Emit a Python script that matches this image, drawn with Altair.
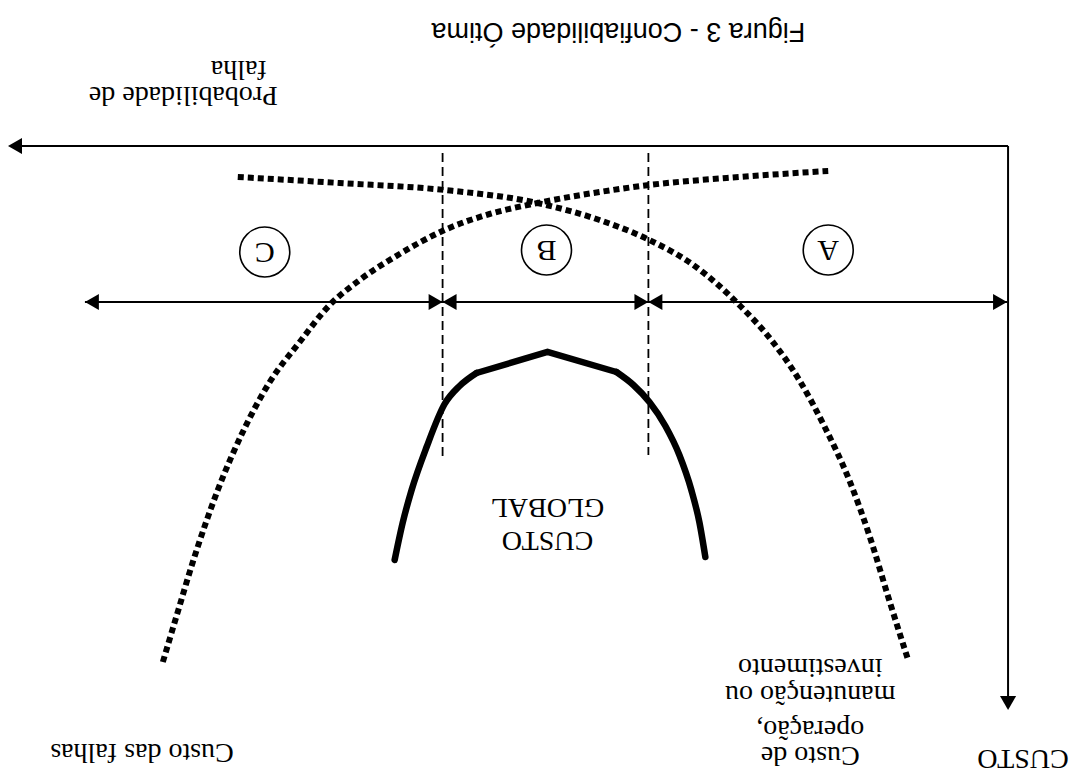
import altair as alt
import pandas as pd

# ---- curves (page coordinates) ----
operacao_x = [238, 340, 445, 538, 600, 650, 694, 742, 772, 800, 826, 850, 871, 890, 909]
operacao_y = [177, 183, 190, 203, 220, 240, 265, 307, 340, 380, 428, 480, 538, 600, 660]
falhas_x = [163, 177, 193, 218, 243, 270, 300, 330, 360, 400, 445, 490, 538, 600, 650, 740, 829]
falhas_y = [662, 615, 562, 490, 432, 382, 342, 305, 280, 254, 230, 214, 203, 192, 185, 177, 171]
# global cost curve: rising side, straight top, falling side
global_x = [395, 403, 412, 427, 445, 460, 477, 477, 548, 617, 617, 634, 650, 666, 680, 692, 700, 706]
global_y = [560, 523, 490, 447, 404, 386, 373, 373, 352, 372, 372, 385, 402, 426, 455, 490, 522, 557]
global_part = ["l"] * 7 + ["t"] * 3 + ["r"] * 8

# ---- axes, range arrow and region boundaries ----
axis_corner_x = 1009
axis_corner_y = 146
axis_left_end = 8
axis_bottom_end = 710
range_y = 302
range_bounds = [85, 443, 649, 1008]
dash_x = [443, 649]
dash_top = [153, 153]
dash_bottom = [457, 455]

# ---- region markers ----
region_letters = ["A", "B", "C"]
region_x = [829, 547, 265]
region_y = [250, 250, 252]

# ---- texts ----
title_text = "Figura 3 - Confiabilidade Ótima"
left_texts = ["Probabilidade de", "falha", "Custo das falhas"]
left_x = [278, 267, 234]
left_y = [95, 69, 752]
center_texts = ["CUSTO", "Custo de", "operação,", "manutenção ou", "investimento", "CUSTO", "GLOBAL"]
center_x = [1024, 811, 811, 811, 811, 548, 548]
center_y = [758, 755, 729, 694, 667, 540, 507]

W, H = 1061, 768
XS = alt.Scale(domain=[8, 8 + W], nice=False, zero=False)
YS = alt.Scale(domain=[8, 8 + H], nice=False, zero=False, reverse=True)
X = lambda f: alt.X(f, type="quantitative", scale=XS, axis=None)
Y = lambda f: alt.Y(f, type="quantitative", scale=YS, axis=None)

SERIF = "Liberation Serif"

curves = pd.concat([
    pd.DataFrame({"x": operacao_x, "y": operacao_y, "c": "operacao"}),
    pd.DataFrame({"x": falhas_x, "y": falhas_y, "c": "falhas"}),
])
dotted = alt.Chart(curves).mark_line(
    color="black", strokeWidth=6, strokeDash=[6, 4], strokeCap="butt", interpolate="monotone"
).encode(x=X("x"), y=Y("y"), detail="c:N")

gdf = pd.DataFrame({"x": global_x, "y": global_y, "p": global_part})
glob_sides = alt.Chart(gdf[gdf.p != "t"]).mark_line(
    color="black", strokeWidth=6.5, strokeCap="round", interpolate="monotone"
).encode(x=X("x"), y=Y("y"), detail="p:N")
glob_top = alt.Chart(gdf[gdf.p == "t"]).mark_line(
    color="black", strokeWidth=6.5, strokeCap="round", strokeJoin="miter", interpolate="linear"
).encode(x=X("x"), y=Y("y"))

# solid rules: axes and range line
rules_df = pd.DataFrame({
    "x": [axis_left_end + 8, axis_corner_x, range_bounds[0]],
    "x2": [axis_corner_x, axis_corner_x, range_bounds[-1]],
    "y": [axis_corner_y, axis_corner_y, range_y],
    "y2": [axis_corner_y, axis_bottom_end - 8, range_y],
})
rules = alt.Chart(rules_df).mark_rule(color="black", strokeWidth=2).encode(
    x=X("x"), x2="x2:Q", y=Y("y"), y2="y2:Q"
)

dash_df = pd.DataFrame({"x": dash_x, "y": dash_top, "y2": dash_bottom})
dashes = alt.Chart(dash_df).mark_rule(color="black", strokeWidth=1.8, strokeDash=[9, 5]).encode(
    x=X("x"), y=Y("y"), y2="y2:Q"
)

# arrowheads (tip positions, centre shifted half a head back)
HALF = 7
tips = [
    (axis_left_end, axis_corner_y, "triangle-left"),
    (axis_corner_x, axis_bottom_end, "triangle-down"),
    (range_bounds[0], range_y, "triangle-left"),
    (range_bounds[1], range_y, "triangle-right"),
    (range_bounds[1], range_y, "triangle-left"),
    (range_bounds[2], range_y, "triangle-right"),
    (range_bounds[2], range_y, "triangle-left"),
    (range_bounds[3], range_y, "triangle-right"),
]
shift = {"triangle-left": (HALF, 0), "triangle-right": (-HALF, 0), "triangle-down": (0, -HALF)}
heads_df = pd.DataFrame({
    "x": [t[0] + shift[t[2]][0] for t in tips],
    "y": [t[1] + shift[t[2]][1] for t in tips],
    "shape": [t[2] for t in tips],
})
heads = alt.Chart(heads_df).mark_point(filled=True, color="black", size=260, opacity=1).encode(
    x=X("x"), y=Y("y"), shape=alt.Shape("shape:N", scale=None)
)

reg_df = pd.DataFrame({"t": region_letters, "x": region_x, "y": region_y})
circles = alt.Chart(reg_df).mark_point(
    shape="circle", size=2500, filled=False, color="black", strokeWidth=1.6, opacity=1
).encode(x=X("x"), y=Y("y"))
letters = alt.Chart(reg_df).mark_text(
    font=SERIF, fontSize=30, angle=180, align="center", baseline="middle", color="black"
).encode(x=X("x"), y=Y("y"), text="t:N")

title = alt.Chart(pd.DataFrame({"t": [title_text], "x": [806], "y": [31]})).mark_text(
    font="Liberation Sans", fontSize=27, angle=180, align="left", baseline="middle", color="black"
).encode(x=X("x"), y=Y("y"), text="t:N")

ltext = alt.Chart(pd.DataFrame({"t": left_texts, "x": left_x, "y": left_y})).mark_text(
    font=SERIF, fontSize=28, angle=180, align="left", baseline="middle", color="black"
).encode(x=X("x"), y=Y("y"), text="t:N")

ctext = alt.Chart(pd.DataFrame({"t": center_texts, "x": center_x, "y": center_y})).mark_text(
    font=SERIF, fontSize=28, angle=180, align="center", baseline="middle", color="black"
).encode(x=X("x"), y=Y("y"), text="t:N")

chart = alt.layer(
    dashes, rules, heads, dotted, glob_sides, glob_top, circles, letters, title, ltext, ctext
).properties(
    width=W, height=H, padding=0,
    autosize=alt.AutoSizeParams(type="fit", contains="padding"),
    background="white",
).configure_view(stroke=None)

chart.save("out.html", embed_options={"renderer": "svg", "actions": False})
